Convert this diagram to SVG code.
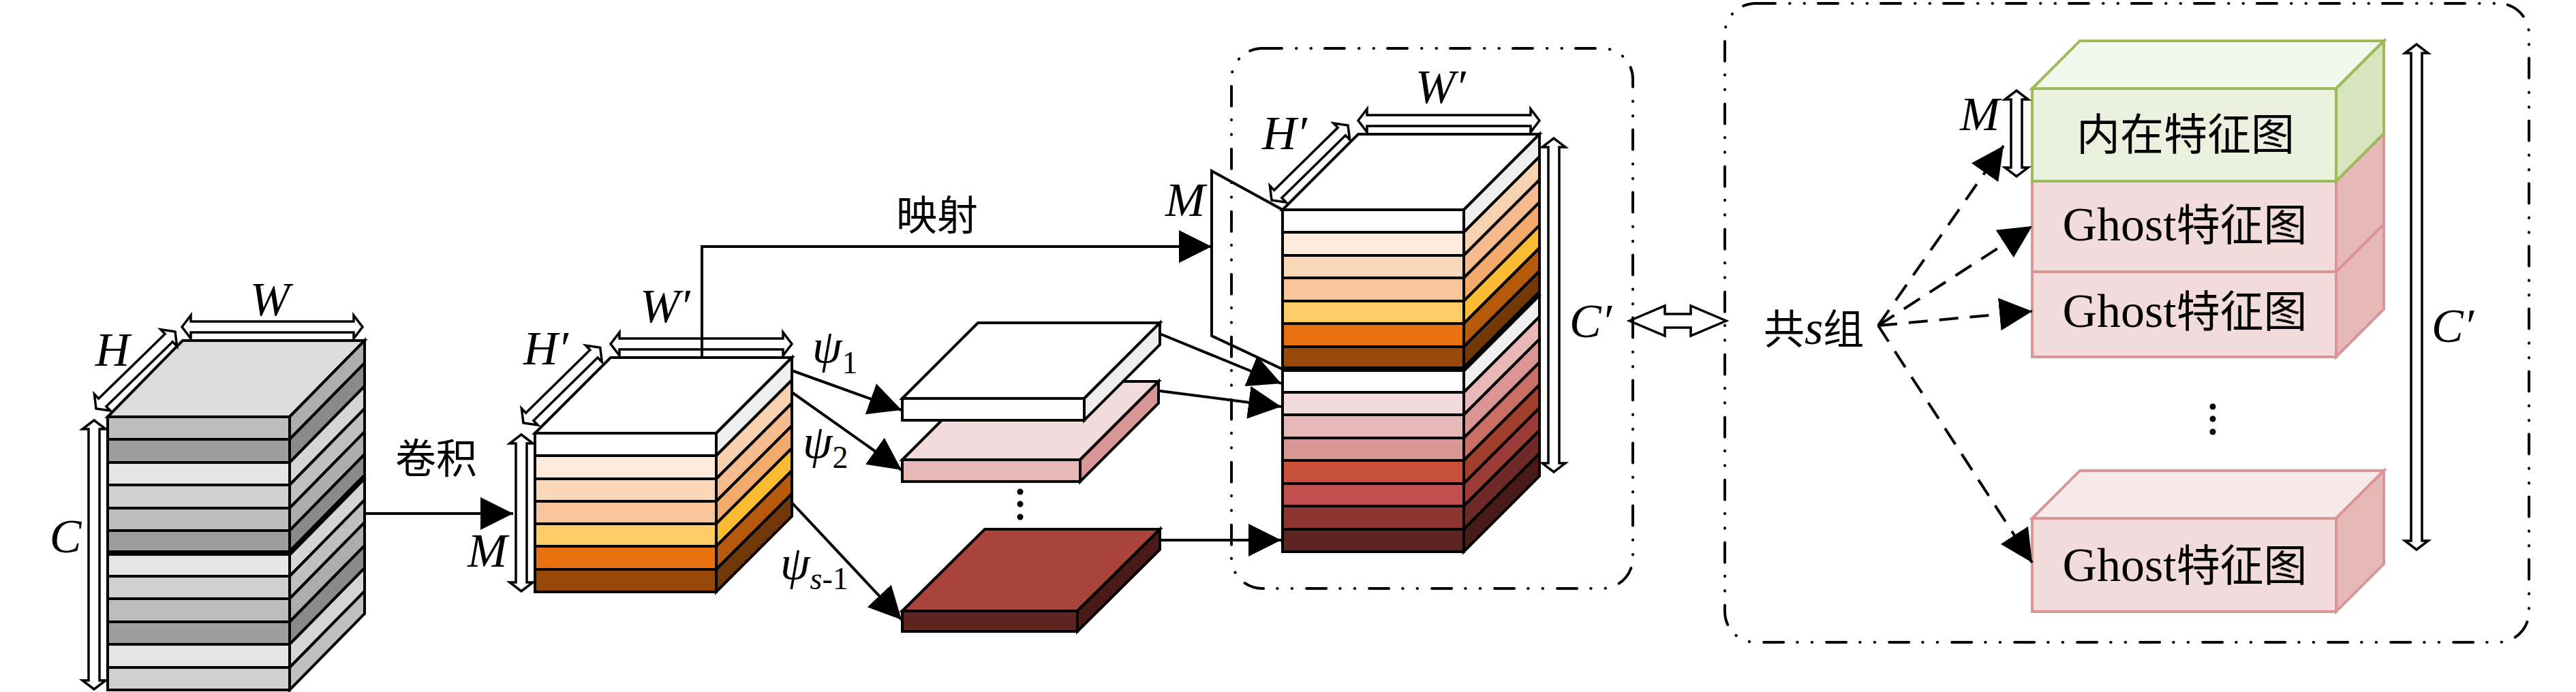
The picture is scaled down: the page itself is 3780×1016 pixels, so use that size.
<svg xmlns="http://www.w3.org/2000/svg" width="3780" height="1016" viewBox="0 0 3780 1016">
<style>
.s{stroke:#000;stroke-width:4;stroke-linejoin:miter}
.thk{stroke:#000;stroke-width:8;fill:none}
.dbl{fill:#fff;stroke:#000;stroke-width:3.5;stroke-linejoin:miter}
.ln{fill:none;stroke:#000;stroke-width:4}
.dsh{fill:none;stroke:#000;stroke-width:4;stroke-dasharray:28 17}
.box{fill:none;stroke:#000;stroke-width:4;stroke-linecap:round;stroke-dasharray:29 21 0.5 21 0.5 20}
.math{font-family:"Liberation Serif",serif;font-style:italic;font-size:70px;fill:#000}
.sub{font-size:46px;font-style:normal}
.cjk{font-family:"Liberation Serif","Noto Sans CJK SC",serif;font-size:60px;fill:#000}
.lbl{font-family:"Liberation Serif","Noto Sans CJK SC",serif;font-size:64px;fill:#000;text-anchor:middle}
.lat{font-size:70px}
.gr{stroke:#9bbb59;stroke-width:4}
.pk{stroke:#d99694;stroke-width:4}
</style>
<defs>
<marker id="ah" markerUnits="userSpaceOnUse" viewBox="0 0 48 48" refX="48" refY="24" markerWidth="48" markerHeight="48" orient="auto"><path d="M0,0 L48,24 L0,48 Z" fill="#000"/></marker>
</defs>

<!-- Input feature map (gray cube) -->
<g id="input-cube">
<polygon class="s" fill="#dcdcdc" points="158,612 268,500 535,500 425,612"/>
<rect class="s" fill="#bdbdbd" x="158" y="612" width="267" height="33"/>
<rect class="s" fill="#9e9e9e" x="158" y="645" width="267" height="34"/>
<rect class="s" fill="#e5e5e5" x="158" y="679" width="267" height="33"/>
<rect class="s" fill="#d0d0d0" x="158" y="712" width="267" height="34"/>
<rect class="s" fill="#bdbdbd" x="158" y="746" width="267" height="33"/>
<rect class="s" fill="#9e9e9e" x="158" y="779" width="267" height="33"/>
<rect class="s" fill="#e5e5e5" x="158" y="812" width="267" height="34"/>
<rect class="s" fill="#d0d0d0" x="158" y="846" width="267" height="33"/>
<rect class="s" fill="#bdbdbd" x="158" y="879" width="267" height="34"/>
<rect class="s" fill="#9e9e9e" x="158" y="913" width="267" height="33"/>
<rect class="s" fill="#e5e5e5" x="158" y="946" width="267" height="34"/>
<rect class="s" fill="#d0d0d0" x="158" y="980" width="267" height="33"/>
<polygon class="s" fill="#adadad" points="425,612 535,500 535,533 425,645"/>
<polygon class="s" fill="#8a8a8a" points="425,645 535,533 535,567 425,679"/>
<polygon class="s" fill="#d5d5d5" points="425,679 535,567 535,600 425,712"/>
<polygon class="s" fill="#c0c0c0" points="425,712 535,600 535,634 425,746"/>
<polygon class="s" fill="#adadad" points="425,746 535,634 535,667 425,779"/>
<polygon class="s" fill="#8a8a8a" points="425,779 535,667 535,700 425,812"/>
<polygon class="s" fill="#d5d5d5" points="425,812 535,700 535,734 425,846"/>
<polygon class="s" fill="#c0c0c0" points="425,846 535,734 535,767 425,879"/>
<polygon class="s" fill="#adadad" points="425,879 535,767 535,801 425,913"/>
<polygon class="s" fill="#8a8a8a" points="425,913 535,801 535,834 425,946"/>
<polygon class="s" fill="#d5d5d5" points="425,946 535,834 535,868 425,980"/>
<polygon class="s" fill="#c0c0c0" points="425,980 535,868 535,901 425,1013"/>
<polyline class="thk" points="158,812 425,812 535,700"/>
<path class="dbl" transform="translate(141,600) rotate(-44.25)" d="M0,0 L13,-17 L13,-8 L149,-8 L149,-17 L162,0 L149,17 L149,8 L13,8 L13,17 Z"/>
<path class="dbl" transform="translate(267,480)" d="M0,0 L13,-17 L13,-8 L252,-8 L252,-17 L265,0 L252,17 L252,8 L13,8 L13,17 Z"/>
<path class="dbl" transform="translate(138,617) rotate(90)" d="M0,0 L13,-17 L13,-8 L382,-8 L382,-17 L395,0 L382,17 L382,8 L13,8 L13,17 Z"/>
<text class="math" x="165" y="537" text-anchor="middle">H</text>
<text class="math" x="396" y="463" text-anchor="middle">W</text>
<text class="math" x="96" y="811" text-anchor="middle">C</text>
</g>

<!-- Intrinsic feature map after convolution (orange cube) -->
<g id="conv-cube">
<polygon class="s" fill="#ffffff" points="785,636 896,525 1162,525 1051,636"/>
<rect class="s" fill="#ffffff" x="785" y="636" width="266" height="33"/>
<rect class="s" fill="#fdeadb" x="785" y="669" width="266" height="34"/>
<rect class="s" fill="#fbd7ba" x="785" y="703" width="266" height="33"/>
<rect class="s" fill="#f8c59c" x="785" y="736" width="266" height="33"/>
<rect class="s" fill="#fecc66" x="785" y="769" width="266" height="33"/>
<rect class="s" fill="#e8700f" x="785" y="802" width="266" height="34"/>
<rect class="s" fill="#974909" x="785" y="836" width="266" height="33"/>
<polygon class="s" fill="#eeeeee" points="1051,636 1162,525 1162,558 1051,669"/>
<polygon class="s" fill="#f8d1b0" points="1051,669 1162,558 1162,592 1051,703"/>
<polygon class="s" fill="#f6bb8f" points="1051,703 1162,592 1162,625 1051,736"/>
<polygon class="s" fill="#f3aa6c" points="1051,736 1162,625 1162,658 1051,769"/>
<polygon class="s" fill="#fbbc33" points="1051,769 1162,658 1162,691 1051,802"/>
<polygon class="s" fill="#b55a0b" points="1051,802 1162,691 1162,725 1051,836"/>
<polygon class="s" fill="#733807" points="1051,836 1162,725 1162,758 1051,869"/>
<path class="dbl" transform="translate(768,621) rotate(-44.5)" d="M0,0 L13,-17 L13,-8 L145,-8 L145,-17 L158,0 L145,17 L145,8 L13,8 L13,17 Z"/>
<path class="dbl" transform="translate(896,505)" d="M0,0 L13,-17 L13,-8 L253,-8 L253,-17 L266,0 L253,17 L253,8 L13,8 L13,17 Z"/>
<path class="dbl" transform="translate(765,638) rotate(90)" d="M0,0 L13,-17 L13,-8 L217,-8 L217,-17 L230,0 L217,17 L217,8 L13,8 L13,17 Z"/>
<text class="math" x="768" y="535">H′</text>
<text class="math" x="939" y="473">W′</text>
<text class="math" x="686" y="832">M</text>
</g>

<!-- Cheap linear operation outputs (slabs) -->
<g id="slab-dark">
<polygon class="s" fill="#a8443b" points="1324,897 1445,777 1702,777 1581,897"/>
<rect class="s" fill="#5e2421" x="1324" y="897" width="257" height="30"/>
<polygon class="s" fill="#4b1b19" points="1581,897 1702,777 1702,807 1581,927"/>
</g>
<g id="slab-pink">
<polygon class="s" fill="#f2dcdb" points="1324,675 1439,560 1700,560 1585,675"/>
<rect class="s" fill="#e6b9b8" x="1324" y="675" width="261" height="32"/>
<polygon class="s" fill="#d99694" points="1585,675 1700,560 1700,592 1585,707"/>
</g>
<g id="slab-white">
<polygon class="s" fill="#ffffff" points="1324,585 1435,474 1702,474 1591,585"/>
<rect class="s" fill="#ffffff" x="1324" y="585" width="267" height="32"/>
<polygon class="s" fill="#eeeeee" points="1591,585 1702,474 1702,506 1591,617"/>
</g>
<g id="slab-dots">
<circle cx="1497" cy="722" r="4.5" fill="#000"/>
<circle cx="1497" cy="740" r="4.5" fill="#000"/>
<circle cx="1497" cy="759" r="4.5" fill="#000"/>
</g>

<!-- Identity mapping plane -->
<g id="map-plane">
<polygon class="s" fill="#ffffff" points="1778,251 1882,308 1882,542 1778,493"/>
<text class="math" x="1710" y="317">M</text>
</g>

<!-- Output feature map (concatenated cube) -->
<g id="output-cube">
<polygon class="s" fill="#ffffff" points="1882,308 1993,197 2259,197 2148,308"/>
<rect class="s" fill="#ffffff" x="1882" y="308" width="266" height="33"/>
<rect class="s" fill="#fdeadb" x="1882" y="341" width="266" height="34"/>
<rect class="s" fill="#fbd7ba" x="1882" y="375" width="266" height="33"/>
<rect class="s" fill="#f8c59c" x="1882" y="408" width="266" height="34"/>
<rect class="s" fill="#fecc66" x="1882" y="442" width="266" height="33"/>
<rect class="s" fill="#e8700f" x="1882" y="475" width="266" height="34"/>
<rect class="s" fill="#974909" x="1882" y="509" width="266" height="33"/>
<rect class="s" fill="#ffffff" x="1882" y="542" width="266" height="34"/>
<rect class="s" fill="#f2dcdb" x="1882" y="576" width="266" height="33"/>
<rect class="s" fill="#e6b9b8" x="1882" y="609" width="266" height="34"/>
<rect class="s" fill="#d99694" x="1882" y="643" width="266" height="33"/>
<rect class="s" fill="#c9503a" x="1882" y="676" width="266" height="34"/>
<rect class="s" fill="#c0504d" x="1882" y="710" width="266" height="33"/>
<rect class="s" fill="#8e3632" x="1882" y="743" width="266" height="34"/>
<rect class="s" fill="#5e2421" x="1882" y="777" width="266" height="33"/>
<polygon class="s" fill="#eeeeee" points="2148,308 2259,197 2259,230 2148,341"/>
<polygon class="s" fill="#f8d1b0" points="2148,341 2259,230 2259,264 2148,375"/>
<polygon class="s" fill="#f6bb8f" points="2148,375 2259,264 2259,297 2148,408"/>
<polygon class="s" fill="#f3aa6c" points="2148,408 2259,297 2259,331 2148,442"/>
<polygon class="s" fill="#fbbc33" points="2148,442 2259,331 2259,364 2148,475"/>
<polygon class="s" fill="#b55a0b" points="2148,475 2259,364 2259,398 2148,509"/>
<polygon class="s" fill="#733807" points="2148,509 2259,398 2259,431 2148,542"/>
<polygon class="s" fill="#eeeeee" points="2148,542 2259,431 2259,465 2148,576"/>
<polygon class="s" fill="#e6b9b8" points="2148,576 2259,465 2259,498 2148,609"/>
<polygon class="s" fill="#d99694" points="2148,609 2259,498 2259,532 2148,643"/>
<polygon class="s" fill="#cb6f66" points="2148,643 2259,532 2259,565 2148,676"/>
<polygon class="s" fill="#a0402c" points="2148,676 2259,565 2259,599 2148,710"/>
<polygon class="s" fill="#9b3c39" points="2148,710 2259,599 2259,632 2148,743"/>
<polygon class="s" fill="#6e2a26" points="2148,743 2259,632 2259,666 2148,777"/>
<polygon class="s" fill="#4b1b19" points="2148,777 2259,666 2259,699 2148,810"/>
<polyline class="thk" points="1882,542 2148,542 2259,431"/>
<path class="dbl" transform="translate(1866,294) rotate(-44.5)" d="M0,0 L13,-17 L13,-8 L144,-8 L144,-17 L157,0 L144,17 L144,8 L13,8 L13,17 Z"/>
<path class="dbl" transform="translate(1993,177)" d="M0,0 L13,-17 L13,-8 L253,-8 L253,-17 L266,0 L253,17 L253,8 L13,8 L13,17 Z"/>
<path class="dbl" transform="translate(2280,203) rotate(90)" d="M0,0 L13,-17 L13,-8 L477,-8 L477,-17 L490,0 L477,17 L477,8 L13,8 L13,17 Z"/>
<text class="math" x="1852" y="219">H′</text>
<text class="math" x="2077" y="151">W′</text>
<text class="math" x="2303" y="495">C′</text>
</g>

<!-- Ghost module detail (right) -->
<g id="ghost-2">
<rect class="pk" fill="#f2dcdb" x="2982" y="399" width="446" height="125"/>
<polygon class="pk" fill="#e6b9b8" points="3428,399 3498,329 3498,454 3428,524"/>
<text class="lbl" x="3206" y="480"><tspan class="lat">Ghost</tspan>特征图</text>
</g>
<g id="ghost-1">
<rect class="pk" fill="#f2dcdb" x="2982" y="266" width="446" height="133"/>
<polygon class="pk" fill="#e6b9b8" points="3428,266 3498,196 3498,329 3428,399"/>
<text class="lbl" x="3206" y="353"><tspan class="lat">Ghost</tspan>特征图</text>
</g>
<g id="intrinsic">
<polygon class="gr" fill="#f3f7ec" points="2982,130 3052,60 3498,60 3428,130"/>
<rect class="gr" fill="#ebf1de" x="2982" y="130" width="446" height="136"/>
<polygon class="gr" fill="#d7e4bd" points="3428,130 3498,60 3498,196 3428,266"/>
<text class="lbl" x="3207" y="220">内在特征图</text>
</g>
<g id="ghost-3">
<polygon class="pk" fill="#f7e9e9" points="2982,761 3052,691 3498,691 3428,761"/>
<rect class="pk" fill="#f2dcdb" x="2982" y="761" width="446" height="137"/>
<polygon class="pk" fill="#e6b9b8" points="3428,761 3498,691 3498,828 3428,898"/>
<text class="lbl" x="3206" y="853"><tspan class="lat">Ghost</tspan>特征图</text>
</g>
<g id="ghost-dots">
<circle cx="3247" cy="597" r="4.5" fill="#000"/>
<circle cx="3247" cy="615" r="4.5" fill="#000"/>
<circle cx="3247" cy="634" r="4.5" fill="#000"/>
</g>
<g id="ghost-dims">
<path class="dbl" transform="translate(2959,133) rotate(90)" d="M0,0 L13,-17 L13,-8 L113,-8 L113,-17 L126,0 L113,17 L113,8 L13,8 L13,17 Z"/>
<path class="dbl" transform="translate(3546,65) rotate(90)" d="M0,0 L13,-17 L13,-8 L729,-8 L729,-17 L742,0 L729,17 L729,8 L13,8 L13,17 Z"/>
<text class="math" x="2876" y="191">M</text>
<text class="math" x="3568" y="502">C′</text>
</g>
<g id="groups-label">
<text class="cjk" x="2588" y="505" font-size="58">共<tspan class="math" font-size="62">s</tspan>组</text>
</g>

<!-- Connectors -->
<g id="connectors">
<line class="ln" x1="536" y1="754" x2="753" y2="754" marker-end="url(#ah)"/>
<text class="cjk" x="640" y="695" text-anchor="middle" font-size="58">卷积</text>
<polyline class="ln" points="1030,525 1030,362 1778,362" marker-end="url(#ah)"/>
<text class="cjk" x="1375" y="338" text-anchor="middle">映射</text>
<line class="ln" x1="1162" y1="544" x2="1323" y2="602" marker-end="url(#ah)"/>
<line class="ln" x1="1162" y1="576" x2="1323" y2="690" marker-end="url(#ah)"/>
<line class="ln" x1="1162" y1="738" x2="1323" y2="910" marker-end="url(#ah)"/>
<text class="math" x="1192" y="532">ψ<tspan class="sub" y="548">1</tspan></text>
<text class="math" x="1178" y="672">ψ<tspan class="sub" y="687">2</tspan></text>
<text class="math" x="1145" y="850">ψ<tspan font-size="46" y="865">s</tspan><tspan class="sub">-1</tspan></text>
<line class="ln" x1="1702" y1="490" x2="1880" y2="563" marker-end="url(#ah)"/>
<line class="ln" x1="1702" y1="574" x2="1880" y2="597" marker-end="url(#ah)"/>
<line class="ln" x1="1702" y1="793" x2="1880" y2="793" marker-end="url(#ah)"/>
<path class="dbl" transform="translate(2391,471)" d="M0,0 L52,-22 L52,-10 L90,-10 L90,-22 L142,0 L90,22 L90,10 L52,10 L52,22 Z"/>
<line class="dsh" x1="2756" y1="478" x2="2940" y2="214" marker-end="url(#ah)"/>
<line class="dsh" x1="2756" y1="478" x2="2982" y2="332" marker-end="url(#ah)"/>
<line class="dsh" x1="2756" y1="478" x2="2982" y2="457" marker-end="url(#ah)"/>
<line class="dsh" x1="2756" y1="478" x2="2982" y2="826" marker-end="url(#ah)"/>
</g>

<!-- Dash-dot group frames -->
<g id="frame-output">
<rect class="box" x="1807" y="71" width="589" height="793" rx="45" ry="45"/>
</g>
<g id="frame-ghost">
<rect class="box" x="2531" y="5" width="1180" height="938" rx="45" ry="45"/>
</g>
</svg>
